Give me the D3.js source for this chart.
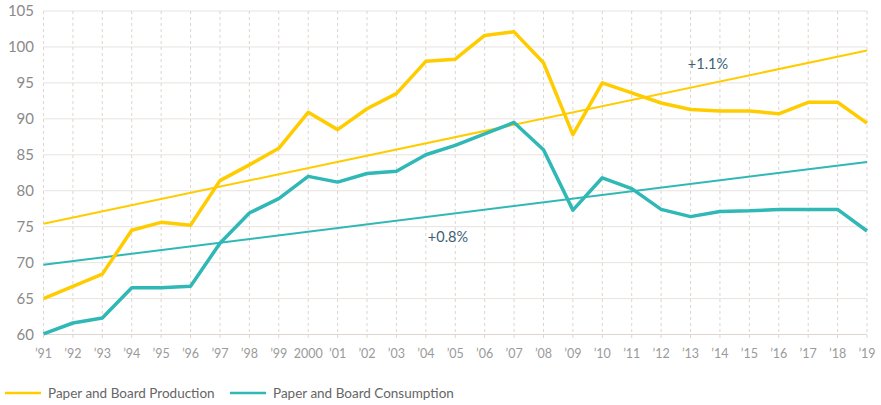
<!DOCTYPE html>
<html>
<head>
<meta charset="utf-8">
<script src="https://cdn.jsdelivr.net/npm/d3@7"></script>
<style>
  body { margin: 0; background: #fff; }
  svg { font-family: Lato, "Open Sans", sans-serif; }
</style>
</head>
<body>
<div id="chart"></div>
<script>
const width = 881
const height = 405

const years = ["’91","’92","’93","’94","’95","’96","’97","’98","’99","2000","’01","’02","’03","’04","’05","’06","’07","’08","’09","’10","’11","’12","’13","’14","’15","’16","’17","’18","’19"]
const production = [65.0,66.7,68.4,74.5,75.6,75.2,81.4,83.6,85.9,90.9,88.5,91.4,93.5,98.0,98.3,101.6,102.1,97.8,87.8,95.0,93.6,92.2,91.3,91.1,91.1,90.7,92.3,92.3,89.4]
const consumption = [60.1,61.6,62.3,66.5,66.5,66.7,72.7,76.9,78.9,82.0,81.2,82.4,82.7,85.0,86.3,87.9,89.5,85.7,77.3,81.8,80.3,77.4,76.4,77.1,77.2,77.4,77.4,77.4,74.4]
const productionTrend = [75.4, 99.5]
const consumptionTrend = [69.7, 84.0]
const yTicks = [60,65,70,75,80,85,90,95,100,105]

const yellow = "#ffcc00"
const teal = "#2fb8b5"

const margin = {top: 11, right: 14, bottom: 70.5, left: 43.5}

const svg = d3.select("#chart").append("svg")
    .attr("width", width)
    .attr("height", height)

const x = d3.scalePoint()
    .domain(years)
    .range([margin.left, width - margin.right])

const y = d3.scaleLinear()
    .domain([60, 105])
    .range([height - margin.bottom, margin.top])

// horizontal grid
svg.append("g")
    .selectAll("line")
    .data(yTicks)
    .join("line")
    .attr("x1", margin.left)
    .attr("x2", width - margin.right)
    .attr("y1", d => y(d))
    .attr("y2", d => y(d))
    .attr("stroke", d => d == 60 ? "#ddd5cf" : "#e8e3df")
    .attr("stroke-width", 1)

// vertical dashed grid
svg.append("g")
    .selectAll("line")
    .data(years)
    .join("line")
    .attr("x1", d => x(d))
    .attr("x2", d => x(d))
    .attr("y1", y(105))
    .attr("y2", y(60) + 5)
    .attr("stroke", "#ddd5cf")
    .attr("stroke-dasharray", "3,3")

// y labels
svg.append("g")
    .selectAll("text")
    .data(yTicks)
    .join("text")
    .attr("x", 34)
    .attr("y", d => y(d))
    .attr("dy", "0.35em")
    .attr("text-anchor", "end")
    .attr("font-size", 15)
    .attr("fill", "#8a8a8a")
    .text(d => d)

// x labels
svg.append("g")
    .selectAll("text")
    .data(years)
    .join("text")
    .attr("x", d => x(d))
    .attr("y", 354)
    .attr("dy", "0.35em")
    .attr("text-anchor", "middle")
    .attr("font-size", 12.5)
    .attr("fill", "#9a9a9a")
    .text(d => d)

// trend lines
const first = years[0], last = years[years.length - 1]
svg.append("line")
    .attr("x1", x(first)).attr("y1", y(productionTrend[0]))
    .attr("x2", x(last)).attr("y2", y(productionTrend[1]))
    .attr("stroke", yellow).attr("stroke-width", 2)
svg.append("line")
    .attr("x1", x(first)).attr("y1", y(consumptionTrend[0]))
    .attr("x2", x(last)).attr("y2", y(consumptionTrend[1]))
    .attr("stroke", teal).attr("stroke-width", 2)

const line = d3.line()
    .x((d, i) => x(years[i]))
    .y(d => y(d))

svg.append("path")
    .attr("d", line(consumption))
    .attr("fill", "none")
    .attr("stroke", teal)
    .attr("stroke-width", 3.5)
    .attr("stroke-linejoin", "round")

svg.append("path")
    .attr("d", line(production))
    .attr("fill", "none")
    .attr("stroke", yellow)
    .attr("stroke-width", 3.5)
    .attr("stroke-linejoin", "round")

// annotations
svg.append("text")
    .attr("x", 708).attr("y", 64).attr("dy", "0.35em")
    .attr("text-anchor", "middle")
    .attr("font-size", 14.5).attr("fill", "#3e5f75")
    .text("+1.1%")
svg.append("text")
    .attr("x", 448).attr("y", 237).attr("dy", "0.35em")
    .attr("text-anchor", "middle")
    .attr("font-size", 14.5).attr("fill", "#3e5f75")
    .text("+0.8%")

// legend
const legend = svg.append("g")
const items = [
    {name: "Paper and Board Production", color: yellow, x: 5},
    {name: "Paper and Board Consumption", color: teal, x: 230}
]
items.forEach(it => {
    legend.append("line")
        .attr("x1", it.x).attr("x2", it.x + 36)
        .attr("y1", 393).attr("y2", 393)
        .attr("stroke", it.color).attr("stroke-width", 2.5)
    legend.append("text")
        .attr("x", it.x + 43).attr("y", 393).attr("dy", "0.35em")
        .attr("font-size", 13.5).attr("fill", "#666")
        .text(it.name)
})
</script>
</body>
</html>
